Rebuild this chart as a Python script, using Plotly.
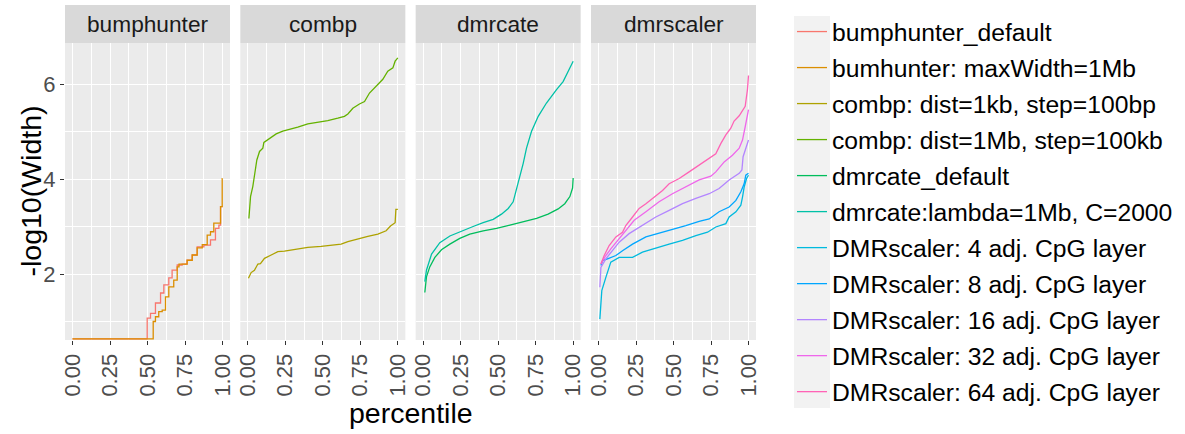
import plotly.graph_objects as go

# ---------------- data ----------------
facets = ["bumphunter", "combp", "dmrcate", "dmrscaler"]

series_names = [
    "bumphunter_default",
    "bumhunter: maxWidth=1Mb",
    "combp: dist=1kb, step=100bp",
    "combp: dist=1Mb, step=100kb",
    "dmrcate_default",
    "dmrcate:lambda=1Mb, C=2000",
    "DMRscaler: 4 adj. CpG layer",
    "DMRscaler: 8 adj. CpG layer",
    "DMRscaler: 16 adj. CpG layer",
    "DMRscaler: 32 adj. CpG layer",
    "DMRscaler: 64 adj. CpG layer",
]
series_facet = [0, 0, 1, 1, 2, 2, 3, 3, 3, 3, 3]
series_colors = ["#F8766D", "#DB8E00", "#AEA200", "#64B200", "#00BD5C", "#00C1A7",
                 "#00BADE", "#00A6FF", "#B385FF", "#EF67EB", "#FF63B6"]

bump_default_x = [0, 0.498, 0.52, 0.553, 0.587, 0.609, 0.642, 0.664, 0.698, 0.731, 0.764,
                  0.798, 0.831, 0.876, 0.92, 0.953, 0.976, 0.987, 1.0]
bump_default_y = [0.635, 1.07, 1.17, 1.39, 1.6, 1.77, 1.92, 2.08, 2.19, 2.21, 2.29,
                  2.4, 2.57, 2.61, 2.72, 2.96, 3.03, 3.42, 3.42]

bump_1mb_x = [0, 0.538, 0.553, 0.575, 0.598, 0.62, 0.642, 0.675, 0.698, 0.71, 0.764,
              0.798, 0.831, 0.865, 0.898, 0.92, 0.942, 0.987, 0.998, 1.0]
bump_1mb_y = [0.635, 1.0, 1.1, 1.21, 1.24, 1.52, 1.73, 1.87, 2.15, 2.21, 2.29,
              2.4, 2.55, 2.62, 2.82, 2.89, 3.07, 3.42, 4.01, 4.01]

combp_1kb_x = [0.004, 0.022, 0.044, 0.067, 0.084, 0.111, 0.156, 0.2, 0.244, 0.311, 0.4,
               0.489, 0.556, 0.622, 0.667, 0.733, 0.8, 0.867, 0.922, 0.951, 0.982, 0.987, 1.0]
combp_1kb_y = [1.91, 2.03, 2.08, 2.21, 2.22, 2.33, 2.40, 2.47, 2.48, 2.52, 2.56,
               2.58, 2.60, 2.63, 2.68, 2.74, 2.79, 2.84, 2.91, 3.01, 3.08, 3.36, 3.36]

combp_1mb_x = [0.007, 0.018, 0.033, 0.044, 0.06, 0.078, 0.1, 0.107, 0.133, 0.167, 0.189,
               0.233, 0.278, 0.333, 0.4, 0.467, 0.533, 0.6, 0.644, 0.667, 0.7, 0.744,
               0.778, 0.811, 0.856, 0.9, 0.933, 0.967, 0.982, 1.0]
combp_1mb_y = [3.17, 3.63, 3.84, 4.12, 4.40, 4.58, 4.65, 4.77, 4.83, 4.91, 4.95,
               5.01, 5.04, 5.09, 5.16, 5.19, 5.23, 5.28, 5.32, 5.37, 5.49, 5.58,
               5.63, 5.81, 5.95, 6.10, 6.27, 6.34, 6.48, 6.55]

dmrcate_def_x = [0.011, 0.022, 0.044, 0.078, 0.122, 0.178, 0.244, 0.311, 0.4, 0.489, 0.578,
                 0.667, 0.756, 0.833, 0.9, 0.944, 0.978, 0.996, 1.0]
dmrcate_def_y = [1.61, 1.94, 2.15, 2.35, 2.51, 2.63, 2.75, 2.84, 2.91, 2.96, 3.03,
                 3.10, 3.17, 3.26, 3.37, 3.48, 3.63, 3.81, 4.02]

dmrcate_lam_x = [0.011, 0.022, 0.056, 0.111, 0.178, 0.244, 0.333, 0.4, 0.467, 0.522, 0.567,
                 0.6, 0.622, 0.644, 0.667, 0.689, 0.722, 0.767, 0.822, 0.889, 0.933, 0.967, 1.0]
dmrcate_lam_y = [1.84, 2.08, 2.42, 2.66, 2.80, 2.89, 3.0, 3.08, 3.15, 3.26, 3.38,
                 3.52, 3.77, 4.05, 4.33, 4.65, 5.0, 5.32, 5.60, 5.88, 6.05, 6.27, 6.48]

scaler4_x = [0.009, 0.022, 0.049, 0.082, 0.138, 0.227, 0.293, 0.382, 0.471, 0.56, 0.649,
             0.727, 0.782, 0.849, 0.871, 0.916, 0.949, 0.96, 0.971, 0.987, 1.0]
scaler4_y = [1.05, 1.65, 1.93, 2.25, 2.35, 2.35, 2.46, 2.55, 2.63, 2.71, 2.81,
             2.88, 2.99, 3.06, 3.20, 3.31, 3.45, 3.62, 3.83, 4.01, 4.08]

scaler8_x = [0.016, 0.027, 0.06, 0.116, 0.16, 0.227, 0.316, 0.404, 0.493, 0.582, 0.671,
             0.738, 0.804, 0.871, 0.916, 0.949, 0.971, 0.982, 1.0]
scaler8_y = [2.18, 2.28, 2.32, 2.39, 2.49, 2.63, 2.78, 2.86, 2.93, 3.02, 3.11,
             3.16, 3.31, 3.41, 3.55, 3.73, 3.90, 4.08, 4.12]

scaler16_x = [0.009, 0.016, 0.049, 0.093, 0.138, 0.204, 0.293, 0.382, 0.471, 0.56, 0.649,
              0.738, 0.804, 0.871, 0.938, 0.956, 0.964, 0.978, 1.0]
scaler16_y = [1.72, 2.14, 2.32, 2.49, 2.67, 2.85, 3.02, 3.20, 3.34, 3.48, 3.59,
              3.69, 3.80, 3.98, 4.12, 4.19, 4.47, 4.61, 4.82]

scaler32_x = [0.016, 0.049, 0.082, 0.138, 0.182, 0.238, 0.316, 0.404, 0.493, 0.582, 0.671,
              0.749, 0.782, 0.838, 0.893, 0.938, 0.96, 0.978, 1.0]
scaler32_y = [2.21, 2.39, 2.53, 2.74, 2.92, 3.13, 3.31, 3.52, 3.69, 3.83, 3.98,
              4.06, 4.15, 4.36, 4.50, 4.65, 4.82, 5.10, 5.46]

scaler64_x = [0.016, 0.038, 0.071, 0.116, 0.16, 0.182, 0.227, 0.271, 0.316, 0.371, 0.427,
              0.471, 0.538, 0.604, 0.671, 0.727, 0.782, 0.816, 0.849, 0.882, 0.904, 0.938,
              0.978, 0.993, 1.0]
scaler64_y = [2.21, 2.39, 2.60, 2.78, 2.88, 3.02, 3.20, 3.38, 3.48, 3.62, 3.76,
              3.90, 4.01, 4.15, 4.29, 4.41, 4.53, 4.75, 4.93, 5.07, 5.22, 5.33,
              5.53, 5.88, 6.18]

series_x = [bump_default_x, bump_1mb_x, combp_1kb_x, combp_1mb_x, dmrcate_def_x, dmrcate_lam_x,
            scaler4_x, scaler8_x, scaler16_x, scaler32_x, scaler64_x]
series_y = [bump_default_y, bump_1mb_y, combp_1kb_y, combp_1mb_y, dmrcate_def_y, dmrcate_lam_y,
            scaler4_y, scaler8_y, scaler16_y, scaler32_y, scaler64_y]
series_shape = ["hv", "hv"] + ["linear"] * 9

x_ticks = [0, 0.25, 0.5, 0.75, 1.0]
x_tick_labels = ["0.00", "0.25", "0.50", "0.75", "1.00"]
y_ticks = [2, 4, 6]

# ---------------- layout geometry ----------------
W, H = 1185, 434
ML, MR, MT, MB = 65, 429, 5, 94
plot_w = W - ML - MR
plot_h = H - MT - MB
panel_w = 165
gap = (plot_w - 4 * panel_w) / 3
strip_h = 38
y_dom_top = (plot_h - strip_h) / plot_h
FONT = "Liberation Sans, Arial, sans-serif"

fig = go.Figure()

for i, name in enumerate(series_names):
    f = series_facet[i]
    fig.add_trace(go.Scatter(
        x=series_x[i], y=series_y[i], mode="lines", name=name,
        line=dict(color=series_colors[i], width=1.3, shape=series_shape[i]),
        xaxis="x" if f == 0 else f"x{f + 1}", yaxis="y",
        legendgroup=name,
    ))

axis_font = dict(family=FONT, size=22, color="#4D4D4D")
for f in range(4):
    x0 = (f * (panel_w + gap)) / plot_w
    x1 = (f * (panel_w + gap) + panel_w) / plot_w
    key = "xaxis" if f == 0 else f"xaxis{f + 1}"
    xref_dom = ("x" if f == 0 else f"x{f + 1}") + " domain"
    fig.layout[key] = dict(
        domain=[x0, x1], range=[-0.05, 1.05], anchor="y",
        tickvals=x_ticks, ticktext=x_tick_labels, tickangle=-90,
        ticks="outside", ticklen=4, tickwidth=1.1, tickcolor="#333333",
        tickfont=axis_font, showgrid=True, gridcolor="white", gridwidth=1.3,
        minor=dict(dtick=0.125, tick0=0.125, showgrid=True, gridcolor="white",
                   gridwidth=0.6, ticks=""),
        zeroline=False, showline=False, fixedrange=True,
    )
    fig.add_shape(type="rect", xref=xref_dom, yref="paper", x0=0, x1=1, y0=y_dom_top, y1=1,
                  fillcolor="#D9D9D9", line=dict(width=0), layer="below")
    fig.add_annotation(text=facets[f], xref=xref_dom, yref="paper", x=0.5,
                       y=(y_dom_top + 1) / 2, showarrow=False,
                       xanchor="center", yanchor="middle",
                       font=dict(family=FONT, size=22.7, color="#1A1A1A"))

fig.layout["yaxis"] = dict(
    domain=[0, y_dom_top], range=[0.611, 6.863], anchor="x",
    tickvals=y_ticks, ticks="outside", ticklen=4, tickwidth=1.1, tickcolor="#333333",
    tickfont=axis_font, showgrid=True, gridcolor="white", gridwidth=1.3,
    minor=dict(dtick=1, tick0=1, showgrid=True, gridcolor="white", gridwidth=0.6, ticks=""),
    zeroline=False, showline=False, fixedrange=True,
)

# axis titles
title_font = dict(family=FONT, size=28.5, color="#000000")
fig.add_annotation(text="percentile", xref="paper", yref="paper", x=0.5,
                   y=-(413 - (H - MB)) / plot_h, showarrow=False,
                   xanchor="center", yanchor="middle", font=title_font)
fig.add_annotation(text="-log10(Width)", xref="paper", yref="paper",
                   x=-(ML - 30) / plot_w, y=(H - MB - 191.5) / plot_h, textangle=-90,
                   showarrow=False, xanchor="center", yanchor="middle", font=title_font)

# legend key background column
fig.add_shape(type="rect", xref="paper", yref="paper",
              x0=(794 - ML) / plot_w, x1=(830 - ML) / plot_w,
              y0=(H - MB - 408) / plot_h, y1=(H - MB - 16) / plot_h,
              fillcolor="#F2F2F2", line=dict(width=0), layer="below")

fig.update_layout(
    width=W, height=H,
    margin=dict(l=ML, r=MR, t=MT, b=MB, pad=0),
    paper_bgcolor="white", plot_bgcolor="#EBEBEB",
    showlegend=True,
    legend=dict(
        xref="container", yref="container", x=792 / W, y=1 - 9 / H,
        xanchor="left", yanchor="top", maxheight=425,
        font=dict(family=FONT, size=24.7, color="#000000"),
        bgcolor="rgba(0,0,0,0)", borderwidth=0,
        traceorder="grouped", tracegroupgap=0.9, itemwidth=30,
    ),
)

fig.write_html("out.html", config={"displayModeBar": False},
               post_script="document.body.style.margin='0';")
